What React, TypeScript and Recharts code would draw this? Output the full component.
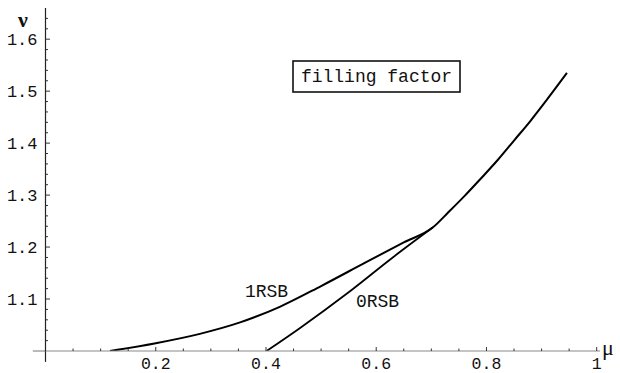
import React from 'react';
import { LineChart, Line, XAxis, YAxis, ReferenceLine } from 'recharts';

// 1RSB curve (merges with 0RSB at mu ~ 0.70 and continues as common branch)
const mu1RSB = [0.117, 0.2, 0.28, 0.353, 0.425, 0.5, 0.58, 0.65, 0.703, 0.73, 0.76, 0.79, 0.82, 0.85, 0.88, 0.91, 0.946];
const nu1RSB = [1.0, 1.015, 1.033, 1.055, 1.085, 1.125, 1.17, 1.209, 1.238, 1.266, 1.298, 1.332, 1.367, 1.405, 1.443, 1.484, 1.535];
// 0RSB curve
const mu0RSB = [0.401, 0.46, 0.55, 0.63, 0.703];
const nu0RSB = [1.0, 1.043, 1.113, 1.18, 1.238];

const xMajorTicks = [0.2, 0.4, 0.6, 0.8, 1];
const xTickLabels = ['0.2', '0.4', '0.6', '0.8', '1'];
const yMajorTicks = [1.1, 1.2, 1.3, 1.4, 1.5, 1.6];
const yTickLabels = ['1.1', '1.2', '1.3', '1.4', '1.5', '1.6'];

const xAllTicks = Array.from({ length: 20 }, (_, i) => +((i + 1) * 0.05).toFixed(2));
const yAllTicks = Array.from({ length: 32 }, (_, i) => +(1.02 + i * 0.02).toFixed(2));

const data1 = mu1RSB.map((m, i) => ({ mu: m, nu: nu1RSB[i] }));
const data0 = mu0RSB.map((m, i) => ({ mu: m, nu: nu0RSB[i] }));

const MONO = '"Liberation Mono", "DejaVu Sans Mono", monospace';

const XTick = (props: any) => {
  const { x, y, payload } = props;
  const v = payload.value;
  const idx = xMajorTicks.findIndex((t) => Math.abs(t - v) < 1e-6);
  const major = idx >= 0;
  return (
    <g>
      <line x1={x} x2={x} y1={y} y2={y - (major ? 4 : 2.5)} stroke="#333" strokeWidth={1} />
      {major && (
        <text x={x} y={y + 18} textAnchor="middle" fontFamily={MONO} fontSize={16.5} fill="#111">
          {xTickLabels[idx]}
        </text>
      )}
    </g>
  );
};

const YTick = (props: any) => {
  const { x, y, payload } = props;
  const v = payload.value;
  const idx = yMajorTicks.findIndex((t) => Math.abs(t - v) < 1e-6);
  const major = idx >= 0;
  return (
    <g>
      <line x1={x} x2={x + (major ? 4.5 : 2.5)} y1={y} y2={y} stroke="#333" strokeWidth={1} />
      {major && (
        <text x={x - 8} y={y + 6} textAnchor="end" fontFamily={MONO} fontSize={17} fill="#111">
          {yTickLabels[idx]}
        </text>
      )}
    </g>
  );
};

export default function App() {
  return (
    <div style={{ position: 'absolute', left: 0, top: 0, width: 620, height: 373, background: '#fff' }}>
      <LineChart width={620} height={373} margin={{ top: 8, right: 20, left: 5.5, bottom: 0 }}>
        <XAxis
          type="number"
          dataKey="mu"
          domain={[0, 1.006]}
          ticks={xAllTicks}
          interval={0}
          tick={<XTick />}
          tickLine={false}
          tickSize={0}
          tickMargin={0}
          height={22}
          axisLine={{ stroke: '#8a8a8a', strokeWidth: 1.2 }}
          allowDataOverflow
        />
        <YAxis
          type="number"
          dataKey="nu"
          domain={[1, 1.66]}
          ticks={yAllTicks}
          interval={0}
          tick={<YTick />}
          tickLine={false}
          tickSize={0}
          tickMargin={0}
          width={40}
          axisLine={{ stroke: '#222', strokeWidth: 1.2 }}
          allowDataOverflow
        />
        <ReferenceLine
          segment={[{ x: -0.023, y: 1 }, { x: 0, y: 1 }]}
          ifOverflow="visible"
          stroke="#8a8a8a"
          strokeWidth={1.2}
        />
        <ReferenceLine
          segment={[{ x: 0, y: 0.979 }, { x: 0, y: 1 }]}
          ifOverflow="visible"
          stroke="#222"
          strokeWidth={1.2}
        />
        <Line
          data={data1}
          dataKey="nu"
          type="monotone"
          stroke="#000"
          strokeWidth={2}
          dot={false}
          isAnimationActive={false}
        />
        <Line
          data={data0}
          dataKey="nu"
          type="monotone"
          stroke="#000"
          strokeWidth={1.8}
          dot={false}
          isAnimationActive={false}
        />
      </LineChart>
      <svg
        width={620}
        height={373}
        style={{ position: 'absolute', left: 0, top: 0, pointerEvents: 'none' }}
      >
        <text x={23} y={27} textAnchor="middle" fontFamily='"Liberation Serif", serif' fontWeight="bold" fontSize={22} fill="#111">
          ν
        </text>
        <text x={608} y={355} textAnchor="middle" fontFamily='"Liberation Serif", serif' fontSize={22} fill="#111">
          μ
        </text>
        <rect x={293} y={61} width={167} height={31} fill="#fff" stroke="#111" strokeWidth={1.6} />
        <text x={376.5} y={82} textAnchor="middle" fontFamily={MONO} fontSize={18} fill="#111">
          filling factor
        </text>
        <text x={266.5} y={297} textAnchor="middle" fontFamily={MONO} fontSize={18} fill="#111">
          1RSB
        </text>
        <text x={377.5} y={307} textAnchor="middle" fontFamily={MONO} fontSize={18} fill="#111">
          0RSB
        </text>
      </svg>
    </div>
  );
}
